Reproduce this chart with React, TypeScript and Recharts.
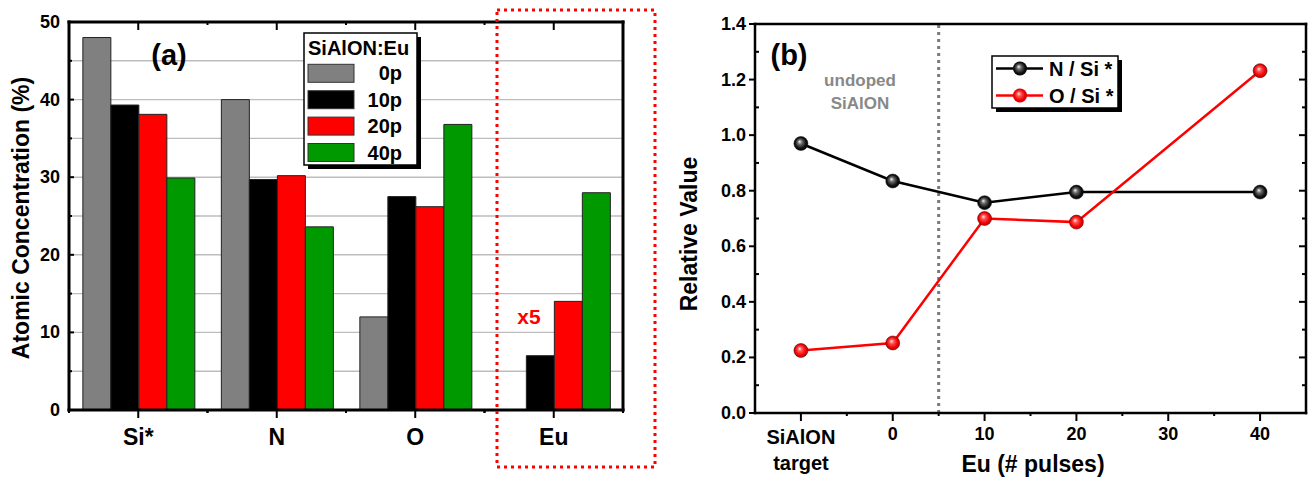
import React from 'react';
import { BarChart, Bar, XAxis, YAxis, CartesianGrid, LineChart, Line, ReferenceLine } from 'recharts';

const FONT = '"Liberation Sans", Arial, Helvetica, sans-serif';

// ---------- Panel (a) data ----------
const elements = ['Si*', 'N', 'O', 'Eu'];
const conc0p = [48, 40, 12, 0];
const conc10p = [39.3, 29.7, 27.5, 1.4];
const conc20p = [38.1, 30.2, 26.2, 2.8];
const conc40p = [29.9, 23.6, 36.8, 5.6];
const magnifiedElement = 'Eu';
const magnification = 5;
const pulseLabels = ['0p', '10p', '20p', '40p'];
const pulseKeys = ['p0', 'p10', 'p20', 'p40'];
const barColors = ['#808080', '#000000', '#ff0000', '#009900'];
const concTicks = [0, 5, 10, 15, 20, 25, 30, 35, 40, 45, 50];
const euTicks = [0, 1, 2, 3, 4, 5, 6, 7, 8, 9, 10];

// ---------- Panel (b) data ----------
const pulsePositions = [-10, 0, 10, 20, 40];
const nOverSi = [0.97, 0.835, 0.757, 0.795, 0.795];
const oOverSi = [0.225, 0.252, 0.7, 0.687, 1.232];
const pulseTicks = [-10, -5, 0, 5, 10, 15, 20, 25, 30, 35, 40];
const pulseTickLabels: Record<string, string[]> = {
  '-10': ['SiAlON', 'target'],
  '0': ['0'],
  '10': ['10'],
  '20': ['20'],
  '30': ['30'],
  '40': ['40'],
};
const relTicks = [0, 0.1, 0.2, 0.3, 0.4, 0.5, 0.6, 0.7, 0.8, 0.9, 1.0, 1.1, 1.2, 1.3, 1.4];
const undopedBoundary = 5;
const seriesNames = ['N / Si *', 'O / Si *'];

// ---------- tables ----------
const barData = elements.map((el, i) => {
  const k = el === magnifiedElement ? magnification : 1;
  return { name: el, p0: conc0p[i] * k, p10: conc10p[i] * k, p20: conc20p[i] * k, p40: conc40p[i] * k };
});
const lineData = pulsePositions.map((x, i) => ({ x, n: nOverSi[i], o: oOverSi[i] }));

// ---------- layout ----------
const A = { width: 680, height: 481, left: 69, right: 623, top: 22, bottom: 410 };
const B = { x0: 680, width: 634, height: 481, left: 75, right: 626, top: 24, bottom: 413 };
const halfBandA = (A.right - A.left) / elements.length / 2;

const txt = { fontFamily: FONT, fontWeight: 'bold' as const, fill: '#000' };

// ---------- ticks panel (a) ----------
const ConcTick = (p: any) => {
  const { x, y, payload } = p;
  const v = payload.value;
  const major = v % 10 === 0;
  return (
    <g>
      <line x1={x} x2={x + (major ? 5 : 3)} y1={y} y2={y} stroke="#000" strokeWidth={2} />
      {major && (
        <text x={x - 9} y={y} textAnchor="end" dominantBaseline="central" fontSize={18} {...txt}>
          {v}
        </text>
      )}
    </g>
  );
};
const EuTick = (p: any) => {
  const { x, y, payload } = p;
  const v = payload.value;
  const major = v % 2 === 0;
  return (
    <g>
      <line x1={x} x2={x - (major ? 7 : 4)} y1={y} y2={y} stroke="#000" strokeWidth={2} />
      {major && (
        <text x={x + 8} y={y} textAnchor="start" dominantBaseline="central" fontSize={18} {...txt}>
          {v}
        </text>
      )}
    </g>
  );
};
const ElemBottomTick = (p: any) => {
  const { x, y, payload } = p;
  return (
    <g>
      <line x1={x} x2={x} y1={y} y2={y + 8} stroke="#000" strokeWidth={2} />
      <line x1={x + halfBandA} x2={x + halfBandA} y1={y} y2={y + 3} stroke="#000" strokeWidth={2} />
      <line x1={x - halfBandA} x2={x - halfBandA} y1={y} y2={y + 3} stroke="#000" strokeWidth={2} />
      <text x={x} y={y + 27} textAnchor="middle" dominantBaseline="central" fontSize={23} {...txt}>
        {payload.value}
      </text>
    </g>
  );
};
const ElemTopTick = (p: any) => {
  const { x, y } = p;
  return (
    <g>
      <line x1={x} x2={x} y1={y} y2={y + 8} stroke="#000" strokeWidth={2} />
      <line x1={x + halfBandA} x2={x + halfBandA} y1={y} y2={y + 3} stroke="#000" strokeWidth={2} />
    </g>
  );
};

// ---------- ticks panel (b) ----------
const RelTick = (p: any) => {
  const { x, y, payload } = p;
  const v = payload.value;
  const major = Math.round(v * 10) % 2 === 0;
  return (
    <g>
      {major ? (
        <line x1={x} x2={x - 6} y1={y} y2={y} stroke="#000" strokeWidth={2} />
      ) : (
        <line x1={x} x2={x + 4} y1={y} y2={y} stroke="#000" strokeWidth={2} />
      )}
      {major && (
        <text x={x - 9} y={y} textAnchor="end" dominantBaseline="central" fontSize={18} {...txt}>
          {v.toFixed(1)}
        </text>
      )}
    </g>
  );
};
const RelRightTick = (p: any) => {
  const { x, y, payload } = p;
  const major = Math.round(payload.value * 10) % 2 === 0;
  return <line x1={x} x2={x - (major ? 7 : 4)} y1={y} y2={y} stroke="#000" strokeWidth={2} />;
};
const PulseBottomTick = (p: any) => {
  const { x, y, payload } = p;
  const lbl = pulseTickLabels[String(payload.value)];
  const major = !!lbl;
  return (
    <g>
      <line x1={x} x2={x} y1={y} y2={y + (major ? 8 : 3)} stroke="#000" strokeWidth={2} />
      {lbl &&
        lbl.map((s, i) => (
          <text
            key={i}
            x={x}
            y={y + (lbl.length > 1 ? 24 + i * 26 : 21)}
            textAnchor="middle"
            dominantBaseline="central"
            fontSize={lbl.length > 1 ? 20 : 18}
            {...txt}
          >
            {s}
          </text>
        ))}
    </g>
  );
};
const PulseTopTick = (p: any) => {
  const { x, y, payload } = p;
  const major = !!pulseTickLabels[String(payload.value)];
  return <line x1={x} x2={x} y1={y} y2={y + (major ? 8 : 3)} stroke="#000" strokeWidth={2} />;
};

const sphere = (grad: string, key: string) => (p: any) =>
  p.cx == null ? (
    <g key={`${key}-${p.index}`} />
  ) : (
    <circle key={`${key}-${p.index}`} cx={p.cx} cy={p.cy} r={7} fill={`url(#${grad})`} stroke="#111" strokeWidth={0.5} />
  );

export default function App() {
  const legendRowsA = pulseLabels.map((l, i) => ({ l, c: barColors[i], y: 73.3 + i * 26.4 }));
  return (
    <div
      style={{
        position: 'absolute',
        left: 0,
        top: 0,
        width: 1314,
        height: 481,
        background: '#fff',
        overflow: 'hidden',
        fontFamily: FONT,
      }}
    >
      <div style={{ position: 'absolute', left: 0, top: 0 }}>
        <BarChart
          width={A.width}
          height={A.height}
          data={barData}
          margin={{ top: 21, right: 0, bottom: 0, left: 0 }}
          barCategoryGap="10%"
          barGap={0}
        >
          <CartesianGrid horizontal vertical={false} stroke="#bdbdbd" strokeWidth={1.4} />
          <XAxis
            dataKey="name"
            height={71}
            axisLine={{ stroke: '#000', strokeWidth: 3, strokeLinecap: 'square' }}
            tickLine={false}
            tickSize={0}
            tickMargin={0}
            interval={0}
            tick={(p: any) => <ElemBottomTick {...p} />}
          />
          <XAxis
            xAxisId="top"
            orientation="top"
            dataKey="name"
            height={1}
            axisLine={{ stroke: '#000', strokeWidth: 3, strokeLinecap: 'square' }}
            tickLine={false}
            tickSize={0}
            tickMargin={0}
            interval={0}
            tick={(p: any) => <ElemTopTick {...p} />}
          />
          <YAxis
            width={69}
            domain={[0, 50]}
            ticks={concTicks}
            interval={0}
            axisLine={{ stroke: '#000', strokeWidth: 3, strokeLinecap: 'square' }}
            tickLine={false}
            tickSize={0}
            tickMargin={0}
            tick={(p: any) => <ConcTick {...p} />}
          />
          <YAxis
            yAxisId="right"
            orientation="right"
            width={57}
            domain={[0, 10]}
            ticks={euTicks}
            interval={0}
            axisLine={{ stroke: '#000', strokeWidth: 3, strokeLinecap: 'square' }}
            tickLine={false}
            tickSize={0}
            tickMargin={0}
            tick={(p: any) => <EuTick {...p} />}
          />
          {pulseKeys.map((k, i) => (
            <Bar
              key={k}
              dataKey={k}
              name={pulseLabels[i]}
              fill={barColors[i]}
              stroke="#222"
              strokeWidth={1}
              isAnimationActive={false}
            />
          ))}
        </BarChart>
      </div>

      <div style={{ position: 'absolute', left: B.x0, top: 0 }}>
        <LineChart width={B.width} height={B.height} data={lineData} margin={{ top: 23, right: 0, bottom: 0, left: 0 }}>
          <XAxis
            dataKey="x"
            type="number"
            domain={[-15, 45]}
            ticks={pulseTicks}
            interval={0}
            height={68}
            axisLine={{ stroke: '#000', strokeWidth: 2.5, strokeLinecap: 'square' }}
            tickLine={false}
            tickSize={0}
            tickMargin={0}
            tick={(p: any) => <PulseBottomTick {...p} />}
          />
          <XAxis
            xAxisId="top"
            orientation="top"
            type="number"
            domain={[-15, 45]}
            allowDataOverflow
            ticks={pulseTicks}
            interval={0}
            height={1}
            axisLine={{ stroke: '#000', strokeWidth: 2.5, strokeLinecap: 'square' }}
            tickLine={false}
            tickSize={0}
            tickMargin={0}
            tick={(p: any) => <PulseTopTick {...p} />}
          />
          <YAxis
            width={75}
            domain={[0, 1.4]}
            ticks={relTicks}
            interval={0}
            axisLine={{ stroke: '#000', strokeWidth: 2.5, strokeLinecap: 'square' }}
            tickLine={false}
            tickSize={0}
            tickMargin={0}
            tick={(p: any) => <RelTick {...p} />}
          />
          <YAxis
            yAxisId="right"
            orientation="right"
            width={8}
            domain={[0, 1.4]}
            allowDataOverflow
            ticks={relTicks}
            interval={0}
            axisLine={{ stroke: '#000', strokeWidth: 2.5, strokeLinecap: 'square' }}
            tickLine={false}
            tickSize={0}
            tickMargin={0}
            tick={(p: any) => <RelRightTick {...p} />}
          />
          <ReferenceLine x={undopedBoundary} stroke="#7a7a7a" strokeWidth={3} strokeDasharray="3 4" />
          <Line
            dataKey="n"
            name={seriesNames[0]}
            stroke="#000"
            strokeWidth={2.5}
            dot={sphere('sphereBlack', 'n')}
            isAnimationActive={false}
          />
          <Line
            dataKey="o"
            name={seriesNames[1]}
            stroke="#ff0000"
            strokeWidth={2.5}
            dot={sphere('sphereRed', 'o')}
            isAnimationActive={false}
          />
        </LineChart>
      </div>

      <svg
        width={1314}
        height={481}
        style={{ position: 'absolute', left: 0, top: 0, pointerEvents: 'none' }}
        fontFamily={FONT}
      >
        <defs>
          <radialGradient id="sphereBlack" cx="0.5" cy="0.5" r="0.55" fx="0.4" fy="0.36">
            <stop offset="0" stopColor="#f2f2f2" />
            <stop offset="0.3" stopColor="#6a6a6a" />
            <stop offset="0.7" stopColor="#101010" />
            <stop offset="1" stopColor="#000" />
          </radialGradient>
          <radialGradient id="sphereRed" cx="0.5" cy="0.5" r="0.55" fx="0.4" fy="0.36">
            <stop offset="0" stopColor="#ffe8e8" />
            <stop offset="0.3" stopColor="#ff5050" />
            <stop offset="0.7" stopColor="#f00000" />
            <stop offset="1" stopColor="#d00000" />
          </radialGradient>
        </defs>

        {/* Panel (a) decorations */}
        <text x={21} y={218} transform="rotate(-90 21 218)" textAnchor="middle" dominantBaseline="central" fontSize={23} {...txt}>
          Atomic Concentration (%)
        </text>
        <text x={169} y={55} textAnchor="middle" dominantBaseline="central" fontSize={29} {...txt}>
          (a)
        </text>
        <rect x={308} y={37} width={113} height={132} fill="#000" />
        <rect x={304} y={33} width={113} height={132} fill="#fff" stroke="#000" strokeWidth={1.5} />
        <text x={308} y={48} dominantBaseline="central" fontSize={20} {...txt}>
          SiAlON:Eu
        </text>
        {legendRowsA.map((r) => (
          <g key={r.l}>
            <rect x={308} y={r.y - 9} width={46} height={18} fill={r.c} stroke="#333" strokeWidth={1} />
            <text x={402} y={r.y} textAnchor="end" dominantBaseline="central" fontSize={20} {...txt}>
              {r.l}
            </text>
          </g>
        ))}
        <text x={529} y={316} textAnchor="middle" dominantBaseline="central" fontSize={21} {...txt} fill="#ff0000">
          {`x${magnification}`}
        </text>
        <rect x={497} y={10} width={158} height={457} fill="none" stroke="#ff0000" strokeWidth={3} strokeDasharray="3 4" />

        {/* Panel (b) decorations */}
        <text x={689} y={234} transform="rotate(-90 689 234)" textAnchor="middle" dominantBaseline="central" fontSize={23} {...txt}>
          Relative Value
        </text>
        <text x={789} y={55} textAnchor="middle" dominantBaseline="central" fontSize={29} {...txt}>
          (b)
        </text>
        <text x={860} y={80} textAnchor="middle" dominantBaseline="central" fontSize={17} {...txt} fill="#888">
          undoped
        </text>
        <text x={860} y={103} textAnchor="middle" dominantBaseline="central" fontSize={17} {...txt} fill="#888">
          SiAlON
        </text>
        <text x={1033} y={464} textAnchor="middle" dominantBaseline="central" fontSize={23} {...txt}>
          Eu (# pulses)
        </text>
        <rect x={996} y={60} width={126} height={52} fill="#000" />
        <rect x={992} y={56} width={126} height={52} fill="#fff" stroke="#000" strokeWidth={1.5} />
        {seriesNames.map((s, i) => {
          const y = 68.5 + i * 27;
          const c = i === 0 ? '#000' : '#ff0000';
          return (
            <g key={s}>
              <line x1={996} x2={1043} y1={y} y2={y} stroke={c} strokeWidth={2.5} />
              <circle cx={1020} cy={y} r={7} fill={i === 0 ? 'url(#sphereBlack)' : 'url(#sphereRed)'} />
              <text x={1049} y={y} dominantBaseline="central" fontSize={20} {...txt}>
                {s}
              </text>
            </g>
          );
        })}
      </svg>
    </div>
  );
}
